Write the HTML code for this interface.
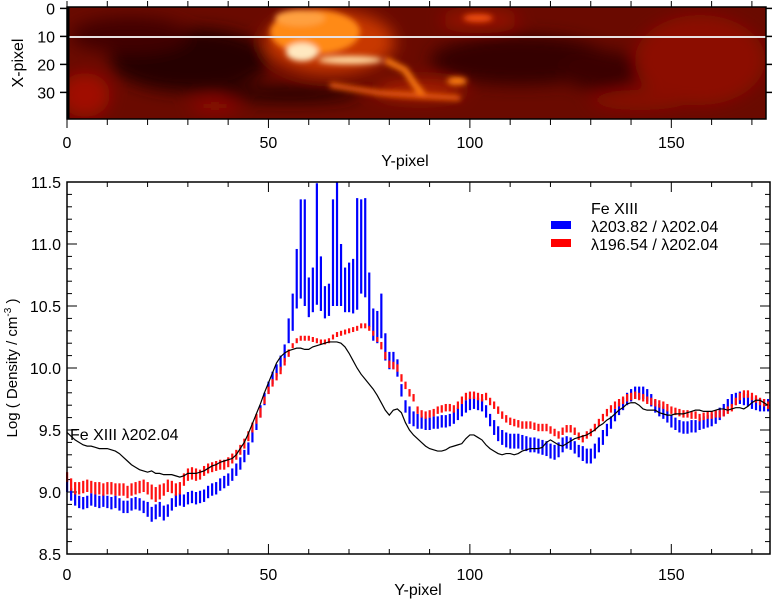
<!DOCTYPE html>
<html><head><meta charset="utf-8"><style>
html,body{margin:0;padding:0;background:#fff}
svg{display:block;font-family:"Liberation Sans",sans-serif}
</style></head><body>
<svg id="fig" width="780" height="600" viewBox="0 0 780 600">
<defs>
<filter id="bl" x="-50%" y="-50%" width="200%" height="200%"><feGaussianBlur stdDeviation="8"/></filter>
<filter id="bl2" x="-50%" y="-50%" width="200%" height="200%"><feGaussianBlur stdDeviation="3"/></filter>
<clipPath id="hc"><rect x="67" y="7" width="699" height="112"/></clipPath>
</defs>
<g clip-path="url(#hc)">
<rect x="67" y="7" width="699" height="112" fill="#6a0a00"/>
<g filter="url(#bl)">
<ellipse cx="190" cy="60" rx="80" ry="32" fill="#280300"/>
<ellipse cx="130" cy="35" rx="60" ry="18" fill="#420600"/>
<ellipse cx="520" cy="60" rx="90" ry="25" fill="#340400"/>
<ellipse cx="600" cy="70" rx="40" ry="20" fill="#3a0500"/>
<ellipse cx="290" cy="94" rx="70" ry="8" fill="#240300"/>
<ellipse cx="85" cy="95" rx="25" ry="22" fill="#a00c00"/>
<ellipse cx="215" cy="106" rx="25" ry="6" fill="#980d00"/>
<ellipse cx="700" cy="60" rx="65" ry="45" fill="#8c0e00"/>
<ellipse cx="480" cy="20" rx="40" ry="8" fill="#a01200"/>
<ellipse cx="640" cy="100" rx="50" ry="10" fill="#880e00"/>
<ellipse cx="330" cy="42" rx="65" ry="32" fill="#c83800"/>
<ellipse cx="420" cy="90" rx="45" ry="9" fill="#b02400"/>
</g>
<g filter="url(#bl2)">
<ellipse cx="315" cy="32" rx="45" ry="22" fill="#ff8a18"/>
<ellipse cx="302" cy="52" rx="16" ry="9" fill="#ffe8c0"/>
<ellipse cx="350" cy="60" rx="32" ry="4" fill="#ffd8a0"/>
<polyline points="385,60 405,70 415,85 425,97" fill="none" stroke="#ff8010" stroke-width="6"/>
<polyline points="330,85 380,93 460,98" fill="none" stroke="#f06010" stroke-width="5"/>
<ellipse cx="457" cy="81" rx="10" ry="4" fill="#ff8010"/>
<ellipse cx="478" cy="18" rx="15" ry="4" fill="#f05010"/>
<ellipse cx="300" cy="18" rx="25" ry="8" fill="#ffa040"/>
</g>
<line x1="67" y1="37" x2="766" y2="37" stroke="#e8e0e0" stroke-width="2"/>
</g>
<rect x="67" y="7" width="699" height="112" fill="none" stroke="#000" stroke-width="1.5"/>
<line x1="68" y1="7" x2="68" y2="119" stroke="#000" stroke-width="3"/>
<g id="mapAxes"></g>
<text x="405" y="166" font-size="16" text-anchor="middle">Y-pixel</text>
<text transform="translate(23,63) rotate(-90)" font-size="16" text-anchor="middle">X-pixel</text>

<g id="plot"></g>
<rect x="67" y="182" width="703" height="372" fill="none" stroke="#000" stroke-width="1.5"/>
<text x="418" y="595" font-size="16" text-anchor="middle">Y-pixel</text>
<text transform="translate(17,368) rotate(-90)" font-size="15" text-anchor="middle">Log ( Density / cm<tspan font-size="10" dy="-6">-3</tspan><tspan dy="6"> )</tspan></text>
<text x="70" y="440" font-size="16">Fe XIII λ202.04</text>
<g>
<text x="591" y="214" font-size="16">Fe XIII</text>
<rect x="551" y="221" width="20" height="8" fill="#0000ff"/>
<text x="591" y="232" font-size="16">λ203.82 / λ202.04</text>
<rect x="551" y="239" width="20" height="8" fill="#ff0000"/>
<text x="591" y="250" font-size="16">λ196.54 / λ202.04</text>
</g>
</svg>
<script>
const blueC=[9.05,8.98,8.94,8.92,8.91,8.92,8.94,8.93,8.92,8.93,8.92,8.91,8.92,8.90,8.88,8.88,8.90,8.91,8.90,8.88,8.86,8.82,8.84,8.86,8.83,8.85,8.90,8.93,8.94,8.93,8.95,8.96,8.95,8.96,8.97,9.00,9.02,9.03,9.06,9.08,9.10,9.14,9.18,9.23,9.29,9.35,9.45,9.55,9.65,9.75,9.84,9.92,9.98,10.04,10.12,10.30,10.45,10.72,10.96,10.93,10.57,10.63,11.0,10.68,10.53,10.55,10.93,11.0,10.75,10.63,10.65,10.66,10.92,10.98,10.97,10.55,10.35,10.33,10.42,10.17,10.06,10.06,10.0,9.82,9.69,9.62,9.59,9.57,9.56,9.55,9.55,9.56,9.56,9.57,9.57,9.58,9.60,9.63,9.66,9.69,9.71,9.72,9.71,9.70,9.65,9.58,9.52,9.47,9.44,9.42,9.41,9.41,9.41,9.40,9.39,9.38,9.38,9.37,9.36,9.35,9.33,9.32,9.34,9.38,9.40,9.39,9.36,9.33,9.31,9.29,9.29,9.33,9.38,9.44,9.50,9.56,9.62,9.67,9.71,9.75,9.78,9.80,9.80,9.80,9.78,9.74,9.69,9.66,9.64,9.61,9.57,9.55,9.53,9.52,9.52,9.53,9.53,9.55,9.56,9.57,9.58,9.60,9.63,9.66,9.70,9.74,9.75,9.76,9.75,9.74,9.72,9.71,9.70,9.70,9.70];
const blueE=[0.05,0.05,0.05,0.05,0.05,0.05,0.05,0.05,0.05,0.05,0.05,0.05,0.05,0.05,0.05,0.05,0.05,0.05,0.05,0.05,0.06,0.06,0.06,0.06,0.06,0.05,0.05,0.05,0.05,0.05,0.05,0.05,0.05,0.05,0.05,0.05,0.05,0.05,0.05,0.05,0.05,0.05,0.05,0.05,0.05,0.05,0.05,0.05,0.05,0.05,0.05,0.05,0.05,0.06,0.07,0.10,0.15,0.24,0.40,0.43,0.16,0.18,0.49,0.22,0.13,0.13,0.43,0.50,0.25,0.18,0.20,0.22,0.45,0.38,0.40,0.22,0.13,0.13,0.18,0.11,0.07,0.07,0.07,0.05,0.05,0.07,0.06,0.06,0.05,0.05,0.05,0.05,0.05,0.05,0.05,0.05,0.05,0.05,0.05,0.05,0.05,0.05,0.05,0.05,0.05,0.05,0.06,0.06,0.06,0.06,0.06,0.06,0.06,0.06,0.06,0.06,0.06,0.06,0.06,0.06,0.06,0.06,0.06,0.06,0.05,0.05,0.05,0.05,0.06,0.06,0.06,0.06,0.06,0.06,0.05,0.05,0.05,0.05,0.05,0.05,0.05,0.05,0.05,0.05,0.05,0.05,0.05,0.05,0.05,0.05,0.05,0.05,0.05,0.05,0.05,0.05,0.05,0.05,0.05,0.05,0.05,0.05,0.05,0.05,0.05,0.05,0.05,0.05,0.05,0.05,0.05,0.05,0.05,0.05,0.05];
const redC=[9.12,9.06,9.03,9.03,9.04,9.05,9.04,9.03,9.03,9.02,9.03,9.03,9.02,9.02,9.02,9.00,9.02,9.03,9.04,9.05,9.03,9.00,8.98,9.00,9.02,9.05,9.04,9.02,9.03,9.10,9.14,9.15,9.14,9.14,9.17,9.19,9.20,9.21,9.22,9.22,9.24,9.27,9.30,9.34,9.39,9.45,9.52,9.59,9.64,9.74,9.82,9.88,9.93,9.98,10.05,10.12,10.18,10.22,10.24,10.24,10.24,10.23,10.22,10.21,10.21,10.22,10.25,10.27,10.28,10.29,10.30,10.31,10.32,10.34,10.34,10.32,10.28,10.23,10.18,10.10,10.03,10.02,10.0,9.92,9.86,9.80,9.76,9.66,9.63,9.62,9.63,9.64,9.66,9.67,9.68,9.68,9.67,9.70,9.74,9.77,9.78,9.78,9.77,9.76,9.77,9.73,9.70,9.66,9.62,9.59,9.57,9.56,9.55,9.54,9.54,9.54,9.53,9.52,9.52,9.52,9.50,9.48,9.46,9.49,9.51,9.51,9.49,9.45,9.43,9.46,9.48,9.52,9.56,9.60,9.64,9.67,9.70,9.72,9.74,9.76,9.77,9.78,9.77,9.76,9.74,9.73,9.72,9.71,9.70,9.68,9.66,9.65,9.64,9.63,9.63,9.62,9.62,9.60,9.61,9.62,9.62,9.63,9.63,9.64,9.66,9.68,9.73,9.77,9.79,9.79,9.77,9.75,9.73,9.72,9.70];
const redE=[0.04,0.05,0.05,0.05,0.05,0.05,0.05,0.05,0.05,0.05,0.05,0.05,0.05,0.05,0.05,0.05,0.05,0.05,0.05,0.05,0.05,0.06,0.06,0.06,0.05,0.05,0.05,0.05,0.05,0.05,0.05,0.05,0.05,0.04,0.04,0.04,0.04,0.04,0.04,0.04,0.04,0.04,0.04,0.04,0.04,0.04,0.04,0.04,0.04,0.03,0.03,0.03,0.03,0.03,0.03,0.03,0.02,0.02,0.02,0.02,0.02,0.02,0.02,0.02,0.02,0.02,0.02,0.02,0.02,0.02,0.02,0.02,0.02,0.02,0.02,0.02,0.02,0.02,0.03,0.03,0.03,0.03,0.03,0.03,0.03,0.03,0.03,0.03,0.03,0.03,0.03,0.03,0.03,0.03,0.03,0.03,0.03,0.03,0.03,0.03,0.03,0.03,0.03,0.03,0.03,0.03,0.03,0.03,0.03,0.03,0.03,0.03,0.03,0.03,0.03,0.03,0.03,0.03,0.03,0.03,0.03,0.03,0.03,0.03,0.03,0.03,0.03,0.03,0.03,0.03,0.03,0.03,0.03,0.03,0.03,0.03,0.03,0.03,0.03,0.03,0.03,0.03,0.03,0.03,0.03,0.03,0.03,0.03,0.03,0.03,0.03,0.03,0.03,0.03,0.03,0.03,0.03,0.03,0.03,0.03,0.03,0.03,0.03,0.03,0.03,0.03,0.03,0.03,0.03,0.03,0.03,0.03,0.03,0.03,0.03,0.03,0.03];
const refLine=[9.48,9.45,9.42,9.40,9.38,9.37,9.37,9.36,9.35,9.35,9.35,9.34,9.33,9.31,9.28,9.25,9.22,9.20,9.18,9.17,9.16,9.17,9.15,9.15,9.14,9.14,9.14,9.13,9.12,9.13,9.15,9.15,9.15,9.16,9.17,9.19,9.21,9.22,9.24,9.25,9.26,9.27,9.30,9.35,9.40,9.47,9.55,9.63,9.71,9.80,9.88,9.96,10.04,10.09,10.12,10.14,10.15,10.16,10.16,10.15,10.15,10.17,10.18,10.19,10.20,10.21,10.21,10.21,10.20,10.17,10.12,10.06,10.00,9.95,9.91,9.87,9.83,9.78,9.72,9.66,9.62,9.66,9.67,9.64,9.56,9.50,9.46,9.43,9.40,9.37,9.35,9.34,9.33,9.33,9.34,9.36,9.37,9.38,9.39,9.43,9.46,9.46,9.44,9.42,9.38,9.35,9.33,9.31,9.30,9.31,9.31,9.30,9.31,9.33,9.34,9.35,9.35,9.35,9.36,9.40,9.42,9.40,9.38,9.37,9.39,9.41,9.43,9.44,9.45,9.46,9.48,9.50,9.53,9.55,9.58,9.60,9.63,9.66,9.68,9.71,9.72,9.72,9.70,9.67,9.66,9.66,9.66,9.64,9.63,9.62,9.62,9.63,9.63,9.63,9.64,9.65,9.66,9.66,9.65,9.65,9.65,9.66,9.67,9.67,9.66,9.67,9.68,9.68,9.67,9.69,9.72,9.74,9.74,9.72,9.70];
const xTicks=[0,50,100,150];
const yTicks=[8.5,9.0,9.5,10.0,10.5,11.0,11.5];
const yTickLabels=["8.5","9.0","9.5","10.0","10.5","11.0","11.5"];
const mapYTicks=[0,10,20,30];

const NS="http://www.w3.org/2000/svg";
const X0=67,X1=770,Y0=554,Y1=182,XMAX=174.5,YMIN=8.5,YMAX=11.5;
const sx=v=>X0+(v/XMAX)*(X1-X0);
const sy=v=>Y0-(v-YMIN)/(YMAX-YMIN)*(Y0-Y1);
const msx=v=>67+(v/173.5)*(766-67);
const msy=v=>7+(v+0.5)/40*112;
function mk(tag,attrs,parent){const e=document.createElementNS(NS,tag);for(const k in attrs)e.setAttribute(k,attrs[k]);parent.appendChild(e);return e;}
const plot=document.getElementById('plot');
const map=document.getElementById('mapAxes');

for(let v=0;v<=170;v+=10){
  const big=v%50===0, L=big?10:5;
  const t1=mk('line',{x1:sx(v),y1:Y0,x2:sx(v),y2:Y0-L,stroke:'#000','stroke-width':1},plot);
  
  
  mk('line',{x1:sx(v),y1:Y1,x2:sx(v),y2:Y1+L,stroke:'#000','stroke-width':1},plot);
  const m1=mk('line',{x1:msx(v),y1:119,x2:msx(v),y2:big?128:125,stroke:'#000','stroke-width':1},map);
  
  
  mk('line',{x1:msx(v),y1:7,x2:msx(v),y2:1,stroke:'#000','stroke-width':1},map);
}
xTicks.forEach(v=>{
  const t=mk('text',{x:sx(v),y:580,'font-size':16,'text-anchor':'middle'},plot);
  
  
  t.textContent=v;
  const m=mk('text',{x:msx(v),y:148,'font-size':16,'text-anchor':'middle'},map);
  
  
  m.textContent=v;
});
for(let i=0;i<=30;i++){
  const v=8.5+i*0.1, big=i%5===0, L=big?10:5;
  const t=mk('line',{x1:X0,y1:sy(v),x2:X0+L,y2:sy(v),stroke:'#000','stroke-width':1},plot);
  
  
  mk('line',{x1:X1,y1:sy(v),x2:X1-L,y2:sy(v),stroke:'#000','stroke-width':1},plot);
}
yTicks.forEach((v,i)=>{
  const t=mk('text',{x:61,y:sy(v)+6,'font-size':16,'text-anchor':'end'},plot);
  
  
  t.textContent=yTickLabels[i];
});
mapYTicks.forEach(v=>{
  const t=mk('line',{x1:60,y1:msy(v),x2:67,y2:msy(v),stroke:'#000','stroke-width':1.5},map);
  
  
  mk('line',{x1:766,y1:msy(v),x2:772,y2:msy(v),stroke:'#000','stroke-width':1.5},map);
  const l=mk('text',{x:55,y:msy(v)+6,'font-size':16,'text-anchor':'end'},map);
  
  
  l.textContent=v;
});

const gB=mk('g',{},plot);


blueC.forEach((c,i)=>{
  const hi=Math.min(c+blueE[i],YMAX), lo=c-blueE[i];
  const b=mk('rect',{x:sx(i)-1,y:sy(hi),width:2.2,height:Math.max(1,sy(lo)-sy(hi)),fill:'#0000ff'},gB);
  
  
});
const gR=mk('g',{},plot);


redC.forEach((c,i)=>{
  const hi=c+redE[i], lo=c-redE[i];
  const b=mk('rect',{x:sx(i)-1,y:sy(hi),width:2.2,height:Math.max(1,sy(lo)-sy(hi)),fill:'#ff1010'},gR);
  
  
});
const ln=mk('polyline',{points:refLine.map((v,i)=>sx(i)+','+sy(v)).join(' '),fill:'none',stroke:'#000','stroke-width':1.2},plot);


</script>
</body></html>
